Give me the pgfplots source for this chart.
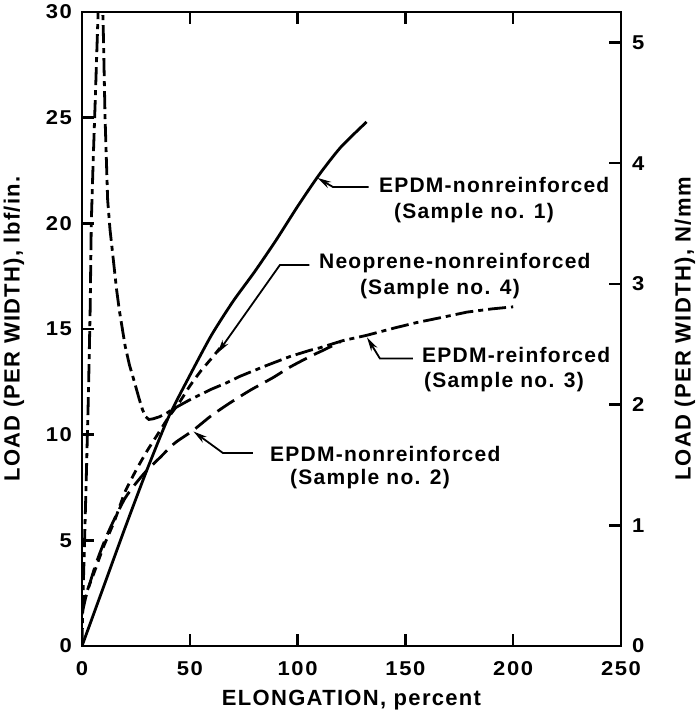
\documentclass[border=0pt]{standalone}
\usepackage{fontspec}
\setmainfont{Liberation Sans}
\newfontfamily\labfont[LetterSpace=6]{Liberation Sans}
\newfontfamily\tickfont[FakeStretch=1.1,LetterSpace=8]{Liberation Sans}
\usepackage{pgfplots}
\pgfplotsset{compat=1.18}
\usetikzlibrary{arrows.meta}
\newcommand\annfont{\labfont\bfseries\fontsize{10.5}{12}\selectfont}
\pgfplotsset{
  common/.style={
    width=269.5pt, height=317pt, scale only axis,
    xmin=0, xmax=250,
    tick align=inside, major tick length=6pt,
    axis line style={line width=1.2pt},
    tick style={line width=1.2pt, black},
    /pgf/number format/assume math mode=true,
    ticklabel style={font=\tickfont\bfseries\fontsize{10}{12}\selectfont},
    label style={font=\labfont\bfseries\fontsize{11}{13}\selectfont},
  }
}
\begin{document}
\begin{tikzpicture}
\begin{axis}[common,
  ymin=0, ymax=30,
  xtick={0,50,...,250}, ytick={0,5,...,30},
  xtick pos=both, ytick pos=left,
  xticklabel style={yshift=-4pt},
  yticklabel style={xshift=-1.5pt},
  xlabel={ELONGATION, percent},
  ylabel={LOAD (PER WIDTH), lbf/in.},
  xlabel style={at={(axis description cs:0.5,0)}, anchor=center, yshift=-27pt},
  ylabel style={at={(axis description cs:0,0.5)}, anchor=center, yshift=34pt},
]
\coordinate (O) at (rel axis cs:0,0);
% Sample no. 1: EPDM-nonreinforced (solid)
\addplot[black, line width=1.4pt, smooth, tension=0.4] coordinates {
(0,0) (10,2.8) (20,5.6) (30,8.3) (40,10.8) (50,12.8) (60,14.7) (70,16.3)
(80,17.7) (90,19.2) (100,20.8) (110,22.3) (120,23.6) (132,24.8)};
% Sample no. 2: EPDM-nonreinforced (long dash)
\addplot[black, line width=1.4pt, smooth, tension=0.4, dash pattern=on 10pt off 4pt] coordinates {
(0,1.5) (2,2.4) (6.5,3.9) (11,5.1) (15,6.0) (20,7.0) (25,7.7) (30,8.3) (36,8.9)
(43,9.6) (51.5,10.2) (60,10.9) (68.6,11.5) (78,12.1) (88.6,12.7) (96.5,13.2)
(105.8,13.7) (112,14.0) (120,14.4)};
% Sample no. 4: Neoprene-nonreinforced (short dash)
\addplot[black, line width=1.4pt, smooth, tension=0.4, dash pattern=on 4.5pt off 3pt] coordinates {
(0,2.0) (5,3.3) (10,4.7) (15,5.9) (20,7.3) (25,8.3) (30,9.2) (35,10.0) (40,10.8)
(45,11.5) (50,12.3) (55,13.0) (60,13.6) (64,14.1)};
% Sample no. 3: EPDM-reinforced (dash-dot)
\addplot[black, line width=1.4pt, dash pattern=on 9pt off 2.5pt on 2.5pt off 2.5pt] coordinates {
(0,0) (0.5,2.5) (1.2,5) (2.0,8) (3.0,12) (3.8,16) (4.3,20) (5.2,23) (6.2,26)
(7.0,28.5) (7.8,31) (9.4,31) (9.9,29) (10.7,25) (11.9,21.1) (13,19.7) (14.4,18.4)
(16,16.9) (17.3,15.9) (20,14.2) (22,13.3) (24.3,12.5) (26.5,11.7) (28,11.2)
(29.5,10.85) (31,10.72) (33,10.75) (36,10.85) (39,11.0) (42,11.2) (50,11.65)
(60,12.15) (67,12.45) (73,12.75) (85,13.25) (96.5,13.7) (106,14.0) (110,14.1)
(121,14.45) (132,14.7) (145,15.05) (155,15.3) (167,15.55) (178.6,15.8)
(190,15.95) (200,16.05)};
% annotations
\begin{scope}[line width=0.9pt, -{Stealth[length=7pt,width=3.5pt]}]
\draw (axis cs:133,21.72) -- (axis cs:116.4,21.72) -- (axis cs:109.2,22.15);
\draw (axis cs:105.5,18.03) -- (axis cs:91.8,18.03) -- (axis cs:62.8,13.85);
\draw (axis cs:153.5,13.6) -- (axis cs:138.2,13.6) -- (axis cs:132.2,14.6);
\draw (axis cs:79.3,9.13) -- (axis cs:65.4,9.13) -- (axis cs:51.7,10.15);
\end{scope}
\node[anchor=west, font=\annfont] at (axis cs:134.5,21.8) {EPDM-nonreinforced};
\node[font=\annfont] at (axis cs:181.8,20.5) {(Sample no. 1)};
\node[anchor=west, font=\annfont] at (axis cs:106.7,18.13) {Neoprene-nonreinforced};
\node[font=\annfont] at (axis cs:166,16.9) {(Sample no. 4)};
\node[anchor=west, font=\annfont] at (axis cs:154.5,13.75) {EPDM-reinforced};
\node[font=\annfont] at (axis cs:195.7,12.5) {(Sample no. 3)};
\node[anchor=west, font=\annfont] at (axis cs:84,9.1) {EPDM-nonreinforced};
\node[font=\annfont] at (axis cs:133.6,7.9) {(Sample no. 2)};
\end{axis}
\begin{axis}[common,
  ymin=0, ymax=5.2538,
  axis x line=none, axis y line*=right,
  ytick={0,1,...,5},
  yticklabel style={xshift=2pt},
  ylabel={LOAD (PER WIDTH), N/mm},
  ylabel style={at={(axis description cs:1,0.5)}, anchor=center, yshift=-32pt},
]
\addplot[draw=none] coordinates {(0,0)};
\end{axis}
\pgfresetboundingbox
\path (O) ++(-41pt,-36pt) rectangle ++(349pt,359pt);
\end{tikzpicture}
\end{document}
